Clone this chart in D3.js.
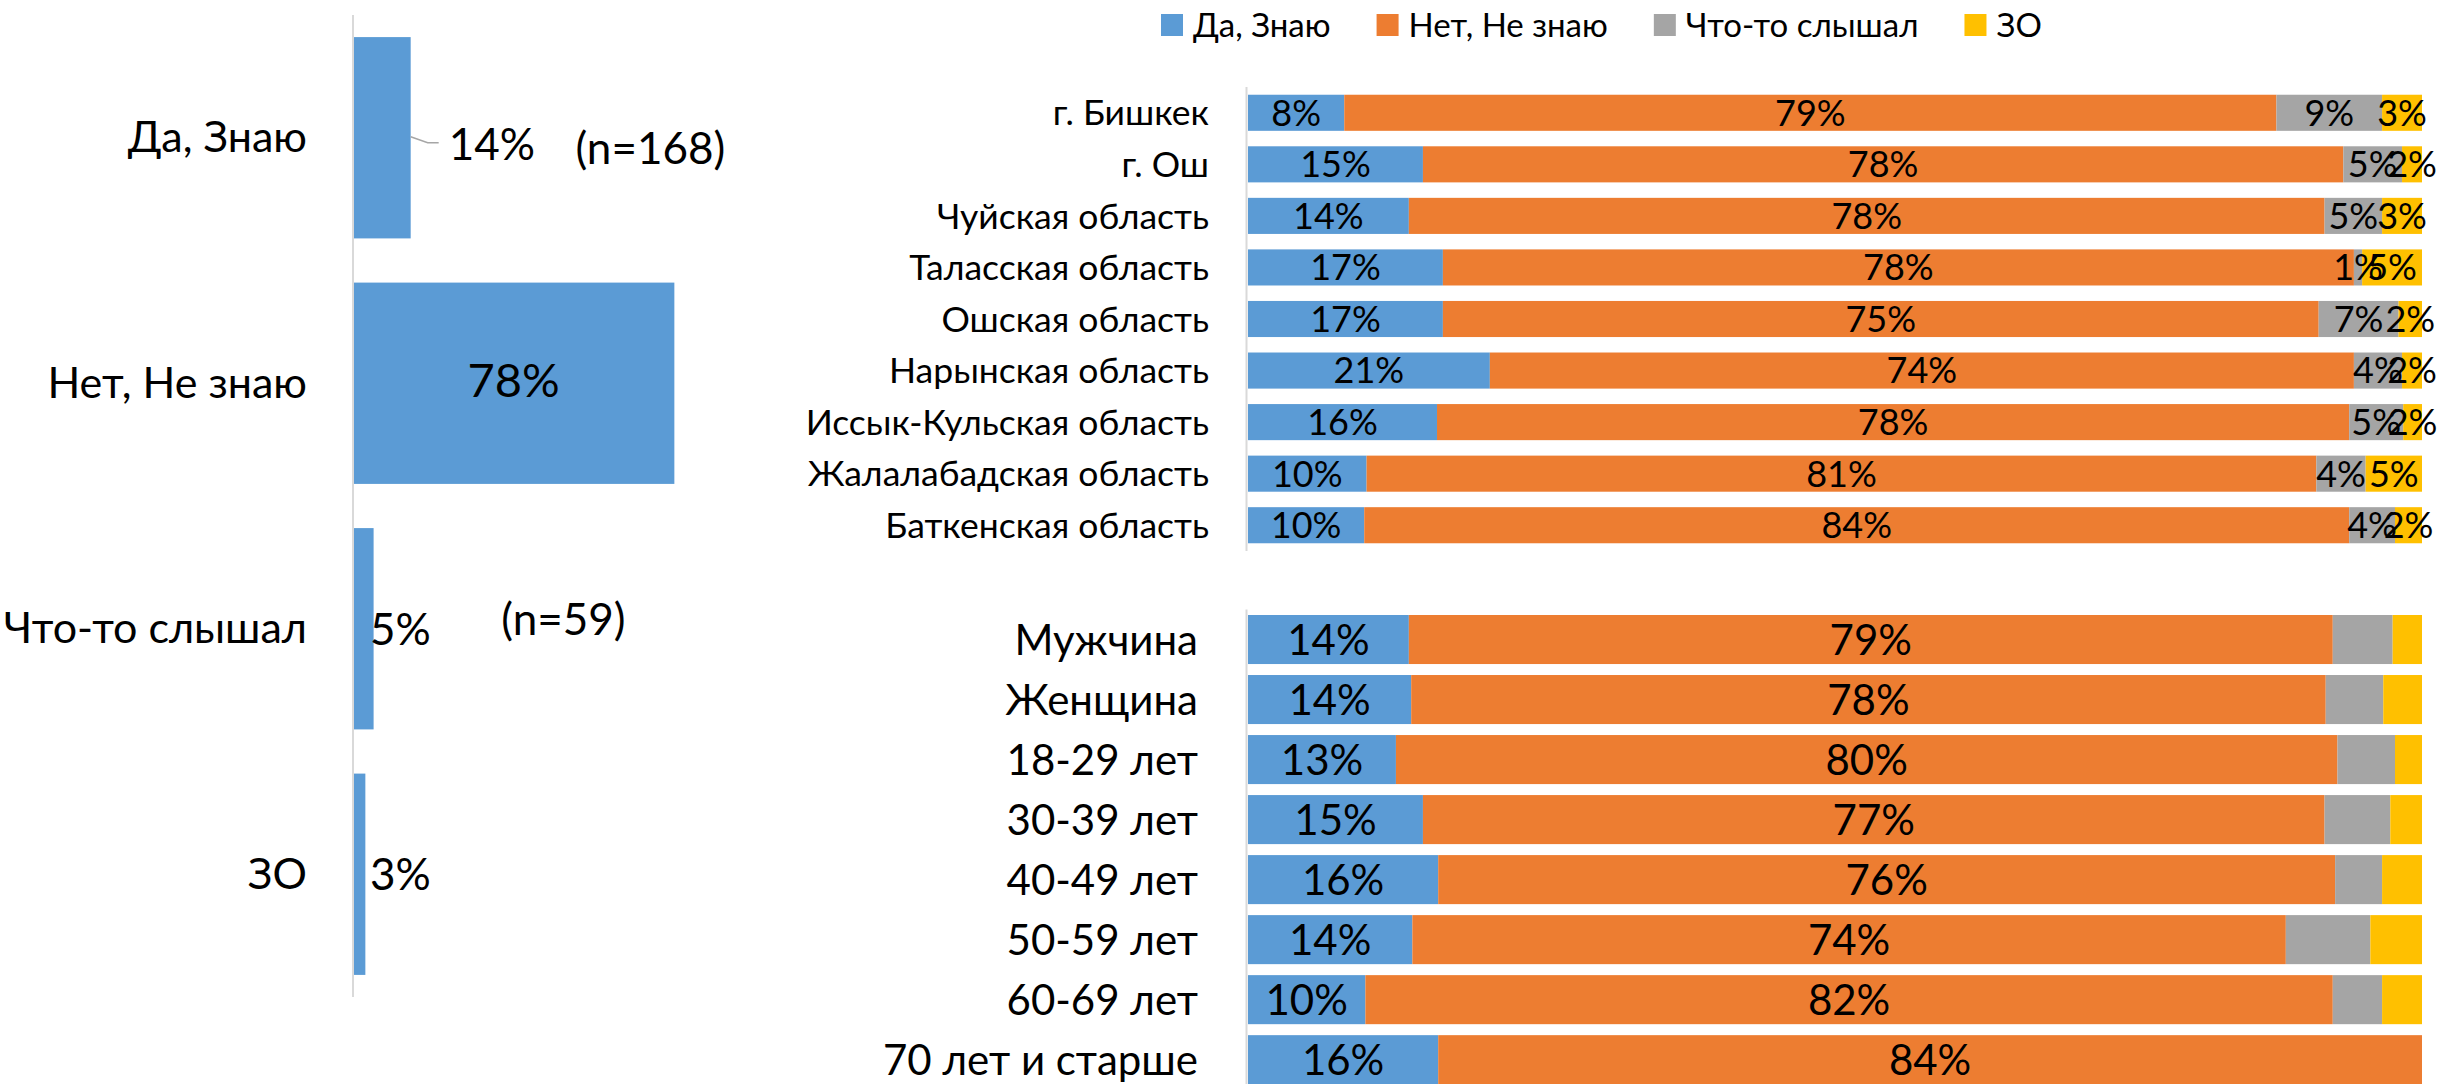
<!DOCTYPE html>
<html><head><meta charset="utf-8">
<script src="https://cdn.jsdelivr.net/npm/d3@7"></script>
<style>
html,body{margin:0;padding:0;background:#fff;}
svg{display:block;}
text{font-family:Lato,'Noto Sans',sans-serif;fill:#000;}
</style>
</head><body>
<svg id="chart" width="2445" height="1084"></svg>
<script>
// ---------- DATA ----------
const overallCategories = ["Да, Знаю", "Нет, Не знаю", "Что-то слышал", "ЗО"];
const overallValues = [14, 78, 5, 3];
const overallNotes = ["(n=168)", "", "(n=59)", ""];

const seriesNames = ["Да, Знаю", "Нет, Не знаю", "Что-то слышал", "ЗО"];

const regionCategories = ["г. Бишкек", "г. Ош", "Чуйская область", "Таласская область", "Ошская область",
  "Нарынская область", "Иссык-Кульская область", "Жалалабадская область", "Баткенская область"];
const regionYes   = [8.2, 14.9, 13.7, 16.6, 16.6, 20.6, 16.1, 10.1, 9.9];
const regionNo    = [79.4, 78.4, 78.0, 77.6, 74.6, 73.6, 77.7, 80.9, 83.9];
const regionHeard = [9.0, 5.0, 4.9, 0.7, 6.8, 4.1, 4.6, 4.2, 3.9];
const regionNA    = [3.4, 1.7, 3.4, 5.1, 2.0, 1.7, 1.6, 4.8, 2.3];

const demoCategories = ["Мужчина", "Женщина", "18-29 лет", "30-39 лет", "40-49 лет", "50-59 лет", "60-69 лет", "70 лет и старше"];
const demoYes   = [13.7, 13.9, 12.6, 14.9, 16.2, 14.0, 10.0, 16.2];
const demoNo    = [78.7, 77.9, 80.2, 76.8, 76.4, 74.4, 82.4, 83.8];
const demoHeard = [5.1, 4.9, 4.9, 5.6, 4.0, 7.2, 4.2, 0];
const demoNA    = [2.5, 3.3, 2.3, 2.7, 3.4, 4.4, 3.4, 0];

// ---------- STYLE ----------
const colors = ["#5B9BD5", "#ED7D31", "#A5A5A5", "#FFC000"];
const axisColor = "#D9D9D9";
const CAP = 0.7165; // cap-height ratio of the font, to centre text vertically
const fmt = v => Math.round(v) + "%";

const svg = d3.select("#chart");

function capText(g, x, cy, size, anchor, str) {
  return g.append("text")
    .attr("x", x).attr("y", cy + size * CAP / 2)
    .attr("font-size", size).attr("text-anchor", anchor).text(str);
}

// ---------- LEFT CHART ----------
const xL = d3.scaleLinear().domain([0, 100]).range([353, 765]);
const yL = d3.scaleBand().domain(overallCategories).range([15, 997]).paddingInner(0.18).paddingOuter(0.09);
const gL = svg.append("g");

gL.selectAll("rect").data(overallCategories).join("rect")
  .attr("x", xL(0)).attr("y", d => yL(d))
  .attr("width", (d, i) => xL(overallValues[i]) - xL(0))
  .attr("height", yL.bandwidth()).attr("fill", colors[0]);

gL.append("line").attr("x1", xL(0)).attr("x2", xL(0)).attr("y1", 15).attr("y2", 997)
  .attr("stroke", axisColor).attr("stroke-width", 2);

overallCategories.forEach((c, i) => {
  const cy = yL(c) + yL.bandwidth() / 2;
  capText(gL, xL(0) - 46, cy - 1, 43, "end", c);
  const v = overallValues[i];
  if (v > 30) {
    capText(gL, (xL(0) + xL(v)) / 2, cy - 3, 47, "middle", fmt(v));
  } else if (v >= 10) {
    // moved label with leader line
    const xe = xL(v);
    gL.append("path").attr("d", `M${xe},${cy - 1}L${xe + 17},${cy + 5}L${xe + 28},${cy + 5}`)
      .attr("fill", "none").attr("stroke", "#A6A6A6").attr("stroke-width", 1.5);
    capText(gL, xe + 38, cy + 6, 44, "start", fmt(v));
  } else {
    capText(gL, xL(0) + 17, cy, 44, "start", fmt(v));
  }
  if (overallNotes[i]) {
    const off = v >= 10 ? 10 : -9.5;
    capText(gL, xL(v >= 10 ? 54 : 36), cy + off, 44, "start", overallNotes[i]);
  }
});

// ---------- RIGHT CHARTS ----------
const xR = d3.scaleLinear().domain([0, 100]).range([1248, 2422]);
const keys = ["yes", "no", "heard", "na"];

function stackedBlock(cats, cols, range, pIn, pOut, labelRight, catSize, valSize, labelKeys) {
  const rows = cats.map((c, i) => ({ cat: c, yes: cols[0][i], no: cols[1][i], heard: cols[2][i], na: cols[3][i] }));
  const y = d3.scaleBand().domain(cats).range(range).paddingInner(pIn).paddingOuter(pOut);
  const series = d3.stack().keys(keys)(rows);
  const g = svg.append("g");
  series.forEach((s, si) => {
    g.append("g").selectAll("rect").data(s).join("rect")
      .attr("x", d => xR(d[0])).attr("y", d => y(d.data.cat))
      .attr("width", d => xR(d[1]) - xR(d[0]))
      .attr("height", y.bandwidth()).attr("fill", colors[si]);
  });
  g.append("line").attr("x1", 1246.5).attr("x2", 1246.5)
    .attr("y1", range[0]).attr("y2", range[1])
    .attr("stroke", axisColor).attr("stroke-width", 2);
  cats.forEach(c => capText(g, labelRight, y(c) + y.bandwidth() / 2, catSize, "end", c));
  series.forEach((s, si) => {
    if (!labelKeys.includes(keys[si])) return;
    s.forEach(d => {
      const v = d[1] - d[0];
      if (v <= 0) return;
      capText(g, (xR(d[0]) + xR(d[1])) / 2, y(d.data.cat) + y.bandwidth() / 2, valSize, "middle", fmt(v));
    });
  });
}

stackedBlock(regionCategories, [regionYes, regionNo, regionHeard, regionNA],
  [87, 551], 0.3, 0.15, 1209, 35.5, 36, keys);
stackedBlock(demoCategories, [demoYes, demoNo, demoHeard, demoNA],
  [609.6, 1089.6], 0.183, 0.09, 1198, 42, 42, ["yes", "no"]);

// ---------- LEGEND ----------
const gLeg = svg.append("g");
let lx = 1161;
seriesNames.forEach((n, i) => {
  gLeg.append("rect").attr("x", lx).attr("y", 14).attr("width", 22).attr("height", 22).attr("fill", colors[i]);
  const t = capText(gLeg, lx + 32, 25, 33, "start", n);
  lx = lx + 32 + t.node().getComputedTextLength() + 46;
});
</script>
</body></html>
